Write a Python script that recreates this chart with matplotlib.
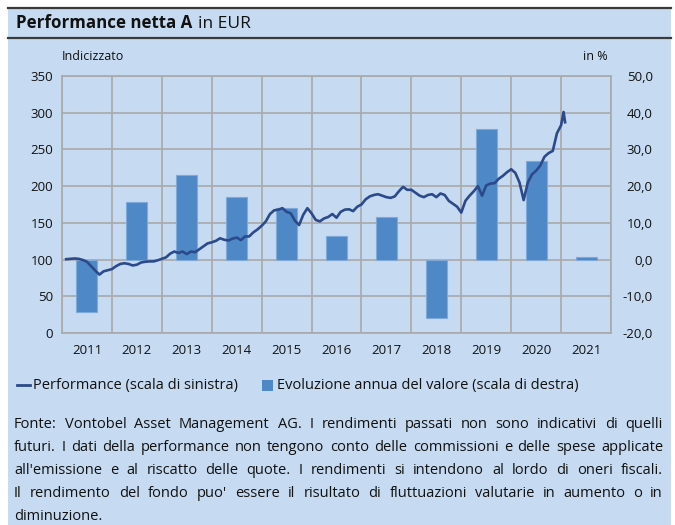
import numpy as np
import matplotlib
matplotlib.use("Agg")
import matplotlib.pyplot as plt
from matplotlib.patches import Rectangle
from matplotlib.lines import Line2D

plt.rcParams['font.family'] = ['Open Sans', 'DejaVu Sans']

# yearly change (right scale, %)
years = [2011, 2012, 2013, 2014, 2015, 2016, 2017, 2018, 2019, 2020, 2021]
annual = [-14.4, 15.7, 22.9, 17.0, 14.0, 6.4, 11.5, -15.8, 35.5, 26.9, 0.7]

# indexed performance (left scale), month-end values Jan 2011 .. Dec 2020
perf_monthly = [
    100.5, 101, 101.5, 101, 99.5, 97, 91, 85, 79.5, 84, 85.5, 87,            # 2011
    91, 94, 95, 94, 92, 93, 96, 97, 97.5, 97.5, 99, 101,                      # 2012
    103, 108, 111, 109, 111, 107.5, 111, 110, 114, 118, 122, 123.5,           # 2013
    125.5, 129, 127, 126, 128.5, 130, 126.5, 131.5, 131.5, 137, 141, 146,     # 2014
    152, 162, 167, 168, 170, 165, 163, 153, 147, 161, 170, 163,               # 2015
    154, 152, 156, 158, 162, 157, 165, 168, 168.5, 166, 172, 175,             # 2016
    182, 186, 188, 189, 187, 185, 184, 186, 193, 199, 195, 195,               # 2017
    191, 187, 185, 188, 189, 185, 190, 188, 180, 176, 172, 164,               # 2018
    180, 187, 193, 200, 187, 201, 203.5, 204, 210, 214, 219, 223,             # 2019
    218, 205, 181, 205, 216, 221, 228, 240, 245, 248, 272, 283,               # 2020
]
# January 2021: intra-month peak and month end
perf_jan21_t = [2021.05, 2021.08]
perf_jan21 = [301, 287]

t_monthly = 2011 + (np.arange(len(perf_monthly)) + 1) / 12.0
perf_t = np.concatenate([t_monthly, perf_jan21_t])
perf = np.concatenate([perf_monthly, perf_jan21])

W, H = 675, 525
fig = plt.figure(figsize=(W / 100, H / 100), dpi=100)
renderer = fig.canvas.get_renderer()
txt_c = '#111111'

bg = '#c6daf1'
fig.add_artist(Rectangle((8 / W, 0), (671 - 8) / W, (H - 8) / H,
                         transform=fig.transFigure, facecolor=bg,
                         edgecolor='none', zorder=-5))
for yy in (8, 38):
    fig.add_artist(Line2D([8 / W, 671 / W], [1 - yy / H, 1 - yy / H],
                          color='#3a3a3a', lw=1.6, zorder=-4))

t1 = fig.text(16 / W, 1 - 23.5 / H, 'Performance netta A', fontsize=12.2,
              fontweight='bold', va='center', ha='left', color=txt_c)
w1 = t1.get_window_extent(renderer).width
fig.text((16 + w1 + 6) / W, 1 - 23.5 / H, 'in EUR', fontsize=12.5, va='center',
         ha='left', color=txt_c)

# axes area
left, right, top, bottom = 62, 611, 76, 333
ax = fig.add_axes([left / W, 1 - bottom / H, (right - left) / W, (bottom - top) / H])
ax.set_facecolor('none')
ax2 = ax.twinx()
grid_c = '#a9a9a9'
bar_c = '#4f88c6'
line_c = '#2b4a8b'

ax.bar(np.array(years) + 0.5, annual, width=0.42, color=bar_c,
       edgecolor='#7fa9d8', linewidth=0.8, zorder=3)
ax.set_ylim(-20, 50)
ax.set_yticks(np.arange(-20, 51, 10))
ax.set_yticklabels([f'{v:.1f}'.replace('.', ',') for v in np.arange(-20, 51, 10)])
ax.set_xlim(2011, 2022)
ax.set_xticks(np.array(years) + 0.5)
ax.set_xticklabels([str(y) for y in years])
ax.set_xticks(np.arange(2011, 2023), minor=True)
ax.grid(True, which='minor', axis='x', color=grid_c, lw=1.2, zorder=0)
ax.grid(True, which='major', axis='y', color=grid_c, lw=1.2, zorder=0)
ax.set_axisbelow(True)
for s in ax.spines.values():
    s.set_color(grid_c)
    s.set_linewidth(1.2)
ax.tick_params(which='both', length=0, labelsize=9.5, colors=txt_c)
ax.tick_params(axis='x', pad=8)

ax2.plot(perf_t, perf, color=line_c, lw=1.9, solid_joinstyle='round', zorder=5)
ax2.set_ylim(0, 350)
ax2.set_yticks(np.arange(0, 351, 50))
for s in ax2.spines.values():
    s.set_visible(False)

# left scale for the line, right scale for the bars
ax.yaxis.tick_right()
ax2.yaxis.tick_left()
ax.tick_params(axis='y', pad=30)
ax2.tick_params(length=0, labelsize=9.5, colors=txt_c, pad=6.5)
for tk in ax.yaxis.get_major_ticks():
    tk.label2.set_horizontalalignment('right')

fig.text(62 / W, 1 - 57 / H, 'Indicizzato', fontsize=9, va='center', ha='left', color=txt_c)
fig.text(608 / W, 1 - 57 / H, 'in %', fontsize=9, va='center', ha='right', color=txt_c)

# legend
fs = 10.5
ly = 1 - 385 / H
fig.add_artist(Line2D([17 / W, 30 / W], [ly, ly], color=line_c, lw=2.0))
fig.text(33 / W, ly, 'Performance (scala di sinistra)', fontsize=fs, va='center', ha='left', color=txt_c)
fig.add_artist(Rectangle((262 / W, ly - 5.5 / H), 11 / W, 11 / H, transform=fig.transFigure,
                         facecolor=bar_c, edgecolor='none'))
fig.text(277 / W, ly, 'Evoluzione annua del valore (scala di destra)', fontsize=fs, va='center',
         ha='left', color=txt_c)

# footnote, justified
note_lines = [
    "Fonte: Vontobel Asset Management AG. I rendimenti passati non sono indicativi di quelli",
    "futuri. I dati della performance non tengono conto delle commissioni e delle spese applicate",
    "all'emissione e al riscatto delle quote. I rendimenti si intendono al lordo di oneri fiscali.",
    "Il rendimento del fondo puo' essere il risultato di fluttuazioni valutarie in aumento o in",
    "diminuzione.",
]
x0, x1 = 14, 663
for i, line in enumerate(note_lines):
    yy = 1 - (424 + i * 23.2) / H
    words = line.split(' ')
    if i == len(note_lines) - 1:
        fig.text(x0 / W, yy, line, fontsize=fs, va='center', ha='left', color=txt_c)
        continue
    texts = [fig.text(0, yy, w, fontsize=fs, va='center', ha='left', color=txt_c) for w in words]
    widths = [t.get_window_extent(renderer).width for t in texts]
    gap = (x1 - x0 - sum(widths)) / (len(words) - 1)
    x = x0
    for t, w in zip(texts, widths):
        t.set_x(x / W)
        x += w + gap

fig.savefig('out.png', dpi=100, facecolor='white')
